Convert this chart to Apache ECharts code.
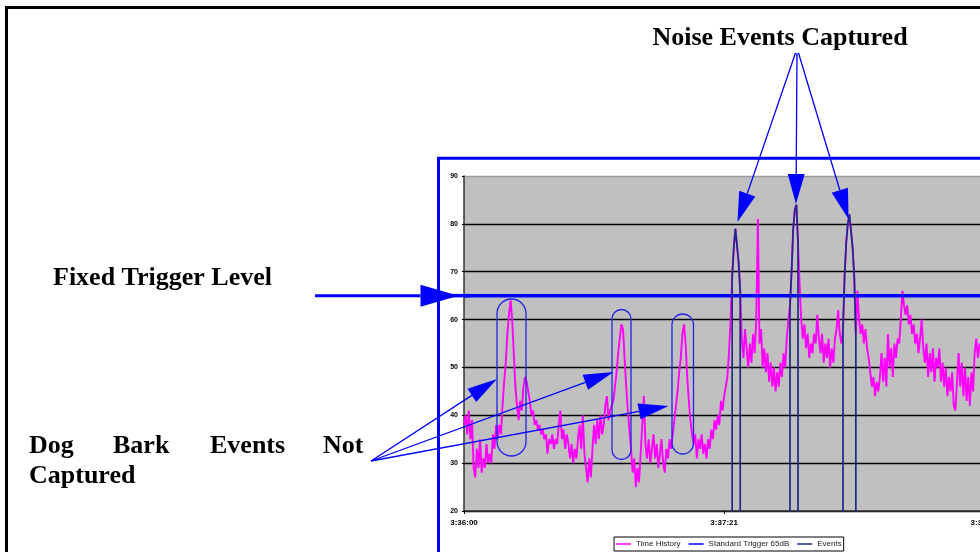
<!DOCTYPE html>
<html>
<head>
<meta charset="utf-8">
<script src="https://cdn.jsdelivr.net/npm/echarts@6/dist/echarts.min.js"></script>
<style>
  html, body { margin: 0; padding: 0; background: #fff; overflow: hidden; width: 980px; height: 552px; }
  /* the chart is wider than the window: the original figure is cropped on the right */
  #chart { width: 1020px; height: 552px; }
</style>
</head>
<body>
<div id="chart"></div>
<script>
// time history, dB, one value every 0.5 s from 3:36:00
const STEP = 0.5;
const timeHistory = [
  38, 40, 36, 41, 35, 39, 29, 27, 33, 29, // 0 s
  35, 28, 31, 29, 34, 30, 32, 30, 36, 33,
  38, 35, 38, 36, 42, 47, 51, 57, 61, 64, // 10 s
  60, 53, 46, 42, 39, 43, 41, 46, 48, 47,
  45, 43, 40, 41, 38, 39, 37, 38, 36, 37, // 20 s
  35, 36, 32, 35, 34, 36, 33, 35, 34, 38,
  41, 35, 37, 33, 36, 34, 31, 34, 30, 33, // 30 s
  31, 35, 38, 33, 40, 32, 29, 26, 31, 27,
  33, 38, 34, 39, 35, 40, 36, 38, 42, 44, // 40 s
  39, 41, 42, 43, 46, 49, 53, 56, 59, 58,
  52, 46, 41, 37, 33, 28, 31, 25, 29, 26, // 50 s
  32, 38, 44, 34, 31, 35, 30, 33, 36, 31,
  34, 29, 32, 35, 30, 28, 33, 31, 35, 33, // 60 s
  36, 39, 42, 45, 49, 52, 57, 59, 55, 48,
  43, 39, 36, 34, 36, 31, 35, 33, 36, 32, // 70 s
  34, 31, 35, 33, 37, 35, 39, 37, 40, 38,
  43, 41, 44, 46, 48, 53, 60, 69, 75, 79, // 80 s
  79, 72, 66, 56, 52, 58, 54, 50, 55, 51,
  57, 53, 60, 81, 55, 58, 50, 54, 49, 53, // 90 s
  47, 51, 46, 50, 45, 49, 46, 51, 48, 53,
  50, 56, 60, 63, 70, 79, 83, 84, 76, 67, // 100 s
  60, 56, 59, 54, 57, 52, 55, 53, 57, 55,
  61, 56, 53, 57, 51, 55, 52, 56, 50, 54, // 110 s
  51, 56, 58, 62, 57, 55, 58, 69, 76, 80,
  82, 82, 75, 69, 57, 66, 60, 57, 59, 55, // 120 s
  58, 54, 52, 49, 46, 48, 44, 47, 45, 48,
  53, 47, 52, 46, 57, 50, 54, 48, 55, 52, // 130 s
  56, 55, 60, 66, 63, 61, 63, 59, 61, 57,
  59, 55, 57, 53, 56, 60, 54, 51, 55, 48, // 140 s
  53, 49, 54, 47, 52, 50, 54, 47, 51, 46,
  50, 44, 48, 45, 49, 42, 41, 47, 53, 46, // 150 s
  51, 44, 50, 43, 48, 42, 49, 45, 53, 56,
  52, 55, 54, 56, 52, 55, 53, 56, 54, 55  // 160 s
];

// captured events: start time (s) and levels every 0.5 s
const eventStarts = [83.5, 101.5, 118];
const eventLevels = [
  [69, 75, 79, 79, 72, 66],
  [63, 70, 79, 83, 84, 76],
  [58, 69, 76, 80, 82, 82, 75, 69, 57]
];

const triggerLevel = 65;
const xTickLabels = ['3:36:00', '3:37:21', '3:38:42'];
const X_INTERVAL = 81;
const yTicks = [20, 30, 40, 50, 60, 70, 80, 90];

const BLUE = '#0000ff';
const SERIF = '"Liberation Serif", "Times New Roman", serif';

const historyPoints = timeHistory.map((v, i) => [i * STEP, v]);
const lastT = (timeHistory.length - 1) * STEP;

// events drop to 0 (below the axis) outside the captured windows
const eventPoints = [];
eventStarts.forEach((t0, k) => {
  const lv = eventLevels[k];
  eventPoints.push([t0, 0]);
  lv.forEach((v, i) => eventPoints.push([t0 + i * STEP, v]));
  eventPoints.push([t0 + (lv.length - 1) * STEP, 0]);
});

function arrow(x1, y1, x2, y2, len, half, width) {
  const dx = x2 - x1, dy = y2 - y1, d = Math.hypot(dx, dy);
  const ux = dx / d, uy = dy / d;
  const bx = x2 - ux * len, by = y2 - uy * len;
  return [
    { type: 'line', z: 10, shape: { x1: x1, y1: y1, x2: bx, y2: by }, style: { stroke: BLUE, lineWidth: width } },
    { type: 'polygon', z: 10, shape: { points: [[x2, y2], [bx - uy * half, by + ux * half], [bx + uy * half, by - ux * half]] }, style: { fill: BLUE } }
  ];
}

function label(text, x, baseline, align) {
  return {
    type: 'text', z: 10,
    style: { text: text, x: x, y: baseline - 8.8, font: 'bold 26px ' + SERIF, fill: '#000', align: align || 'left', verticalAlign: 'middle' }
  };
}

function stadium(x, y, w, h) {
  return { type: 'rect', z: 10, shape: { x: x, y: y, width: w, height: h, r: w / 2 }, style: { fill: 'none', stroke: '#2424e6', lineWidth: 1.3 } };
}

const GRID = { left: 464, top: 176, right: 10, bottom: 41 };
const trigY = GRID.top + (yTicks[yTicks.length - 1] - triggerLevel) / (yTicks[yTicks.length - 1] - yTicks[0]) * (552 - GRID.top - GRID.bottom);

const graphics = [
  // outer page frame and chart frame (both run off the picture)
  { type: 'rect', shape: { x: 6.5, y: 7.5, width: 1200, height: 800 }, style: { fill: 'none', stroke: '#000', lineWidth: 3 } },
  { type: 'rect', shape: { x: 438.5, y: 158.3, width: 800, height: 600 }, style: { fill: 'none', stroke: BLUE, lineWidth: 3 } },
  label('Noise Events Captured', 780, 47, 'center'),
  label('Fixed Trigger Level', 53, 287),
  label('Dog', 29, 455),
  label('Bark', 113, 455),
  label('Events', 210, 455),
  label('Not', 323, 455),
  label('Captured', 29, 485),
  stadium(497, 299, 29, 157),
  stadium(612, 309.5, 19, 150),
  stadium(672, 314, 21.5, 140),
  { type: 'line', z: 9, shape: { x1: 440, y1: trigY, x2: 470, y2: trigY }, style: { stroke: BLUE, lineWidth: 3.5 } }
].concat(
  arrow(315, trigY, 458.5, trigY, 38, 11, 3),
  arrow(795.5, 53, 737.5, 222, 30, 8.5, 1.3),
  arrow(797, 53, 796, 204, 30, 8.5, 1.3),
  arrow(798.5, 53, 848.5, 219, 30, 8.5, 1.3),
  arrow(371, 461, 497, 379, 30, 8, 1.3),
  arrow(371, 461, 613.5, 372, 30, 8, 1.3),
  arrow(371, 461, 668.5, 406, 30, 8, 1.3)
);

const chart = echarts.init(document.getElementById('chart'), null, { renderer: 'canvas' });
chart.setOption({
  animation: false,
  backgroundColor: '#fff',
  grid: Object.assign({ show: true, backgroundColor: '#c0c0c0', borderWidth: 0 }, GRID),
  legend: {
    left: 614, top: 537,
    padding: [2, 2],
    itemGap: 8, itemWidth: 15, itemHeight: 1.5,
    icon: 'rect',
    backgroundColor: '#fff', borderColor: '#000', borderWidth: 1, borderRadius: 0,
    textStyle: { fontFamily: 'Arial, "Liberation Sans", sans-serif', fontSize: 8, color: '#222', lineHeight: 10 },
    data: ['Time History', 'Standard Trigger 65dB', 'Events']
  },
  xAxis: {
    type: 'value', min: 0, max: 170, interval: X_INTERVAL,
    axisLine: { lineStyle: { color: '#333', width: 1.5 } },
    axisTick: { show: true, length: 3, lineStyle: { color: '#000' } },
    axisLabel: {
      margin: 8, fontSize: 8, fontWeight: 'bold', color: '#000', fontFamily: 'Arial, sans-serif',
      showMaxLabel: false,
      formatter: v => xTickLabels[Math.round(v / X_INTERVAL)] || ''
    },
    splitLine: { show: false }
  },
  yAxis: {
    type: 'value', min: yTicks[0], max: yTicks[yTicks.length - 1], interval: 10,
    axisLine: { show: true, lineStyle: { color: '#333', width: 1.5 } },
    axisTick: { show: true, length: 2, lineStyle: { color: '#000' } },
    axisLabel: { margin: 6, fontSize: 7, fontWeight: 'bold', color: '#000', fontFamily: 'Arial, sans-serif' },
    splitLine: { lineStyle: { color: ['#000', '#000', '#000', '#000', '#000', '#000', '#000', '#9a9a9a'], width: 1.3 } }
  },
  series: [
    {
      name: 'Time History', type: 'line', data: historyPoints,
      symbol: 'none', lineStyle: { color: '#ff00ff', width: 1.9 }, itemStyle: { color: '#ff00ff' }, z: 2
    },
    {
      name: 'Standard Trigger 65dB', type: 'line', data: [[0, triggerLevel], [lastT + 10, triggerLevel]],
      symbol: 'none', lineStyle: { color: BLUE, width: 3.5 }, itemStyle: { color: BLUE }, z: 3
    },
    {
      name: 'Events', type: 'line', data: eventPoints, clip: true,
      symbol: 'none', lineStyle: { color: '#1c2a85', width: 1.7 }, itemStyle: { color: '#1c2a85' }, z: 4
    }
  ],
  graphic: { elements: graphics }
});
</script>
</body>
</html>
